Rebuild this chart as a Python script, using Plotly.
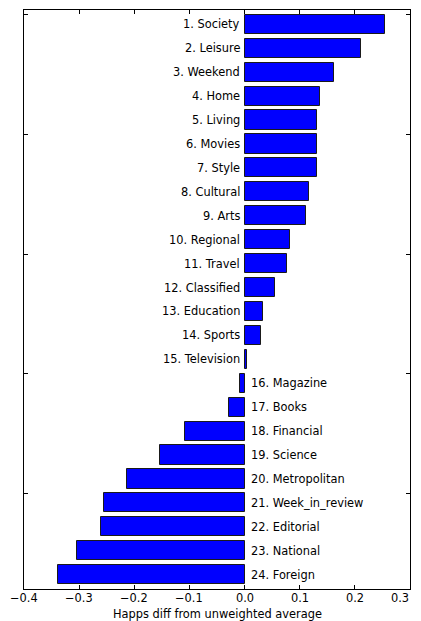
import plotly.graph_objects as go

labels = ["1. Society", "2. Leisure", "3. Weekend", "4. Home", "5. Living", "6. Movies",
          "7. Style", "8. Cultural", "9. Arts", "10. Regional", "11. Travel", "12. Classified",
          "13. Education", "14. Sports", "15. Television", "16. Magazine", "17. Books",
          "18. Financial", "19. Science", "20. Metropolitan", "21. Week_in_review",
          "22. Editorial", "23. National", "24. Foreign"]
values = [0.255, 0.211, 0.162, 0.137, 0.132, 0.131, 0.131, 0.116, 0.112, 0.083, 0.077, 0.056,
          0.033, 0.030, 0.004, -0.009, -0.028, -0.108, -0.154, -0.213, -0.255, -0.260,
          -0.303, -0.339]
xticks = [-0.4, -0.3, -0.2, -0.1, 0.0, 0.1, 0.2, 0.3]
xticklabels = ["\u22120.4", "\u22120.3", "\u22120.2", "\u22120.1", "0.0", "0.1", "0.2", "0.3"]
yticks = [0, 5, 10, 15, 20]
xtitle = "Happs diff from unweighted average"

FONT = "DejaVu Sans"
FS = 11.4
pos = list(range(len(labels)))

fig = go.Figure()
fig.add_trace(go.Bar(
    x=values, y=pos, orientation="h", width=0.8, offset=0,
    marker=dict(color="#0000ff", line=dict(color="#1a1a1a", width=1)),
    hoverinfo="skip", showlegend=False,
))

for i, (lab, v) in enumerate(zip(labels, values)):
    fig.add_annotation(
        x=0, y=i + 0.4, xref="x", yref="y", text=lab, showarrow=False,
        xanchor="right" if v >= 0 else "left", yanchor="middle",
        xshift=-3 if v >= 0 else 4,
        font=dict(family=FONT, size=FS, color="black"),
    )

last = len(xticks) - 1
for k, (tv, tt) in enumerate(zip(xticks, xticklabels)):
    fig.add_annotation(
        x=tv, y=0, xref="x", yref="paper", text=tt, showarrow=False,
        xanchor="right" if k == last else "center", xshift=1 if k == last else 0,
        yanchor="middle", yshift=-9,
        font=dict(family=FONT, size=FS, color="black"),
    )

fig.add_annotation(
    x=0.5, y=0, xref="paper", yref="paper", text=xtitle, showarrow=False,
    xanchor="center", yanchor="middle", yshift=-25,
    font=dict(family=FONT, size=FS, color="black"),
)

axis_common = dict(
    showline=True, linecolor="black", linewidth=1, mirror="allticks",
    ticks="inside", ticklen=4, tickwidth=1, tickcolor="black",
    showgrid=False, zeroline=False, automargin=False,
)
fig.update_xaxes(
    range=[-0.4, 0.3], tickmode="array", tickvals=xticks, showticklabels=False,
    **axis_common,
)
fig.update_yaxes(
    range=[24, -0.2], tickmode="array", tickvals=yticks, showticklabels=False,
    **axis_common,
)
fig.update_layout(
    width=413, height=613,
    margin=dict(l=16, r=11, t=2, b=32),
    plot_bgcolor="white", paper_bgcolor="white",
    font=dict(family=FONT, size=FS, color="black"),
    bargap=0,
)
fig.write_html("out.html")
